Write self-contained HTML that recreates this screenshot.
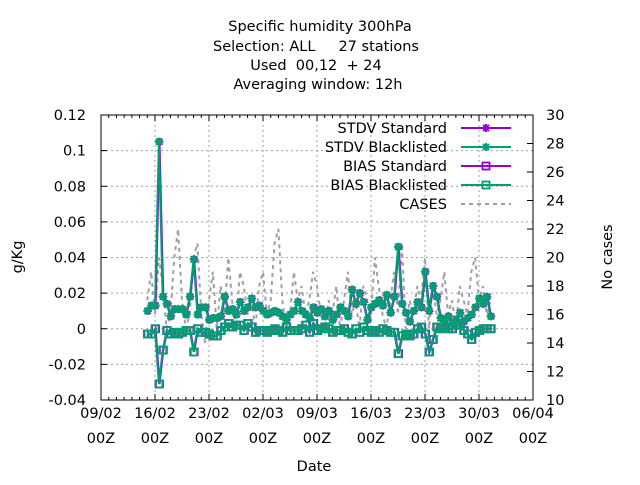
<!DOCTYPE html>
<html><head><meta charset="utf-8"><style>
body{margin:0;background:#fff}
svg text{font-family:"DejaVu Sans","Liberation Sans",sans-serif;fill:#000}
</style></head><body>
<svg id="chart" width="640" height="480" viewBox="0 0 640 480" xmlns="http://www.w3.org/2000/svg">
<rect width="640" height="480" fill="#fff"/>
<g font-size="14.5" text-anchor="middle">
<text x="320" y="31">Specific humidity 300hPa</text>
<text x="316" y="51" xml:space="preserve">Selection: ALL     27 stations</text>
<text x="316" y="70" xml:space="preserve">Used  00,12  + 24</text>
<text x="318" y="89">Averaging window: 12h</text>
</g>
<g id="grid"></g>
<g id="axes"></g>
<g id="series"></g>
<g id="legend"></g>
<text x="22" y="257" font-size="14.5" text-anchor="middle" transform="rotate(-90 22 257)">g/Kg</text>
<text x="612" y="257" font-size="14.5" text-anchor="middle" transform="rotate(-90 612 257)">No cases</text>
<text x="314" y="471" font-size="14.5" text-anchor="middle">Date</text>
</svg>
<script>
const xTickLabels=["09/02","16/02","23/02","02/03","09/03","16/03","23/03","30/03","06/04"];
const yTicks=[-0.04,-0.02,0,0.02,0.04,0.06,0.08,0.1,0.12];
const y2Ticks=[10,12,14,16,18,20,22,24,26,28,30];
const startDay=6.0, stepDay=0.5;
const stdvStd=[0.010,0.013,0.013,0.105,0.018,0.014,0.007,0.011,0.011,0.011,0.008,0.018,0.039,0.008,0.012,0.012,0.005,0.006,0.006,0.007,0.018,0.010,0.011,0.008,0.015,0.010,0.012,0.017,0.012,0.013,0.010,0.008,0.009,0.010,0.009,0.007,0.005,0.008,0.010,0.015,0.010,0.008,0.006,0.012,0.009,0.011,0.007,0.010,0.005,0.008,0.012,0.010,0.007,0.022,0.014,0.020,0.015,0.005,0.012,0.014,0.016,0.013,0.019,0.009,0.018,0.046,0.014,0.009,0.004,0.010,0.015,0.012,0.032,0.010,0.024,0.018,0.006,0.005,0.007,0.003,0.005,0.009,0.004,0.006,0.008,0.012,0.017,0.014,0.018,0.007];
const stdvBl=stdvStd.map(v=>v);
const biasStd=[-0.003,-0.003,0.000,-0.031,-0.012,-0.001,-0.003,-0.002,-0.003,-0.002,-0.001,-0.001,-0.013,0.000,-0.002,-0.002,-0.003,-0.004,-0.004,-0.001,0.001,0.003,0.001,0.002,0.002,-0.001,0.003,0.001,-0.002,-0.001,-0.001,-0.002,-0.001,0.000,-0.001,-0.002,0.001,-0.001,-0.001,-0.001,0.000,0.002,-0.002,0.003,-0.001,0.000,0.001,0.000,-0.002,-0.001,-0.001,0.000,-0.002,-0.003,0.000,-0.002,0.001,-0.001,-0.002,-0.001,-0.002,0.000,-0.001,-0.002,-0.002,-0.014,-0.004,-0.003,-0.004,-0.003,0.000,0.001,-0.003,-0.013,-0.006,0.001,0.000,0.001,0.000,0.000,0.002,0.002,-0.001,-0.003,-0.006,-0.002,-0.001,0.000,0.000,0.000];
const biasBl=biasStd.map(v=>v);
const cases=[17,19,16,20,18,15,16,20,22,17,15,16,20,21,16,14,17,19,15,18,16,20,17,15,19,18,16,17,15,18,19,16,17,21,22,17,15,16,19,17,18,16,17,19,18,16,15,17,16,18,15,17,19,16,17,15,18,17,16,20,18,16,15,17,19,16,21,15,17,16,18,17,20,15,18,16,17,19,16,17,15,18,17,16,19,20,17,18,16,17];
const L=101,R=533,T=115,B=400;
const xs=d=>L+(R-L)*d/56;
const ys=v=>B-(B-T)*(v+0.04)/0.16;
const y2s=v=>B-(B-T)*(v-10)/20;
const NS="http://www.w3.org/2000/svg";
function mk(tag,attrs,parent){const e=document.createElementNS(NS,tag);for(const k in attrs)e.setAttribute(k,attrs[k]);parent.appendChild(e);return e;}
const grid=document.getElementById('grid'),axes=document.getElementById('axes'),ser=document.getElementById('series'),leg=document.getElementById('legend');
xTickLabels.forEach((lab,i)=>{const x=xs(i*7);
 if(i>0&&i<8){const g=mk('line',{x1:x,x2:x,y1:T,y2:B,stroke:'#a0a0a0','stroke-dasharray':'2,3','stroke-width':1},grid);}
 const t=mk('text',{x:x,y:418,'font-size':14.5,'text-anchor':'middle'},axes);t.textContent=lab;
 const t2=mk('text',{x:x,y:443,'font-size':14.5,'text-anchor':'middle'},axes);t2.textContent='00Z';
 mk('line',{x1:x,x2:x,y1:B,y2:B-6,stroke:'#000'},axes);mk('line',{x1:x,x2:x,y1:T,y2:T+6,stroke:'#000'},axes);
});
for(let d=0;d<=56;d++){if(d%7){const x=xs(d);mk('line',{x1:x,x2:x,y1:B,y2:B-3,stroke:'#000'},axes);mk('line',{x1:x,x2:x,y1:T,y2:T+3,stroke:'#000'},axes);}}
yTicks.forEach(v=>{const y=ys(v);
 if(v>-0.04&&v<0.12){const g=mk('line',{x1:L,x2:R,y1:y,y2:y,stroke:'#a0a0a0','stroke-dasharray':'2,3'},grid);}
 mk('line',{x1:L,x2:L+6,y1:y,y2:y,stroke:'#000'},axes);
 const t=mk('text',{x:86,y:y+5,'font-size':14.5,'text-anchor':'end'},axes);t.textContent=String(v);
});
y2Ticks.forEach(v=>{const y=y2s(v);mk('line',{x1:R-6,x2:R,y1:y,y2:y,stroke:'#000'},axes);
 const t=mk('text',{x:546,y:y+5,'font-size':14.5},axes);t.textContent=String(v);});
const fr=mk('rect',{x:L,y:T,width:R-L,height:B-T,fill:'none',stroke:'#000'},axes);
function pts(arr,sc,off){return arr.map((v,i)=>(xs(startDay+i*stepDay)+off).toFixed(1)+','+sc(v).toFixed(1)).join(' ');}
const cl=mk('polyline',{points:pts(cases,y2s,0),fill:'none',stroke:'#a0a0a0','stroke-width':2,'stroke-dasharray':'4,4'},ser);

function star(x,y,c,p){const g=mk('g',{stroke:c,'stroke-width':2},p);[[-4,0,4,0],[0,-4,0,4],[-3,-3,3,3],[-3,3,3,-3]].forEach(a=>mk('line',{x1:x+a[0],y1:y+a[1],x2:x+a[2],y2:y+a[3]},g));return g;}
function sq(x,y,c,p){return mk('rect',{x:x-3.5,y:y-3.5,width:7,height:7,fill:'none',stroke:c,'stroke-width':1.8},p);}
function series(arr,col,marker,name,off){const g=mk('g',{},ser);
 mk('polyline',{points:pts(arr,ys,off),fill:'none',stroke:col,'stroke-width':2},g);
 arr.forEach((v,i)=>{const m=marker(xs(startDay+i*stepDay)+off,ys(v),col,g);});}
series(stdvStd,'#9400d3',star,'stdv-standard-series',0.6);
series(biasStd,'#9400d3',sq,'bias-standard-series',0.6);
series(stdvBl,'#009e73',star,'stdv-blacklisted-series',0);
series(biasBl,'#009e73',sq,'bias-blacklisted-series',0);
const legItems=[["STDV Standard",'#9400d3','star'],["STDV Blacklisted",'#009e73','star'],["BIAS Standard",'#9400d3','sq'],["BIAS Blacklisted",'#009e73','sq'],["CASES",'#a0a0a0','dash']];
legItems.forEach((it,i)=>{const y=128+i*19;const g=mk('g',{},leg);
 const t=mk('text',{x:447,y:y+5,'font-size':14.5,'text-anchor':'end'},g);t.textContent=it[0];
 if(it[2]==='dash')mk('line',{x1:461,x2:511,y1:y,y2:y,stroke:it[1],'stroke-width':2,'stroke-dasharray':'4,4'},g);
 else{mk('line',{x1:461,x2:511,y1:y,y2:y,stroke:it[1],'stroke-width':2},g);if(it[2]==='star')star(486,y,it[1],g);else sq(486,y,it[1],g);}
});
</script>
</body></html>
